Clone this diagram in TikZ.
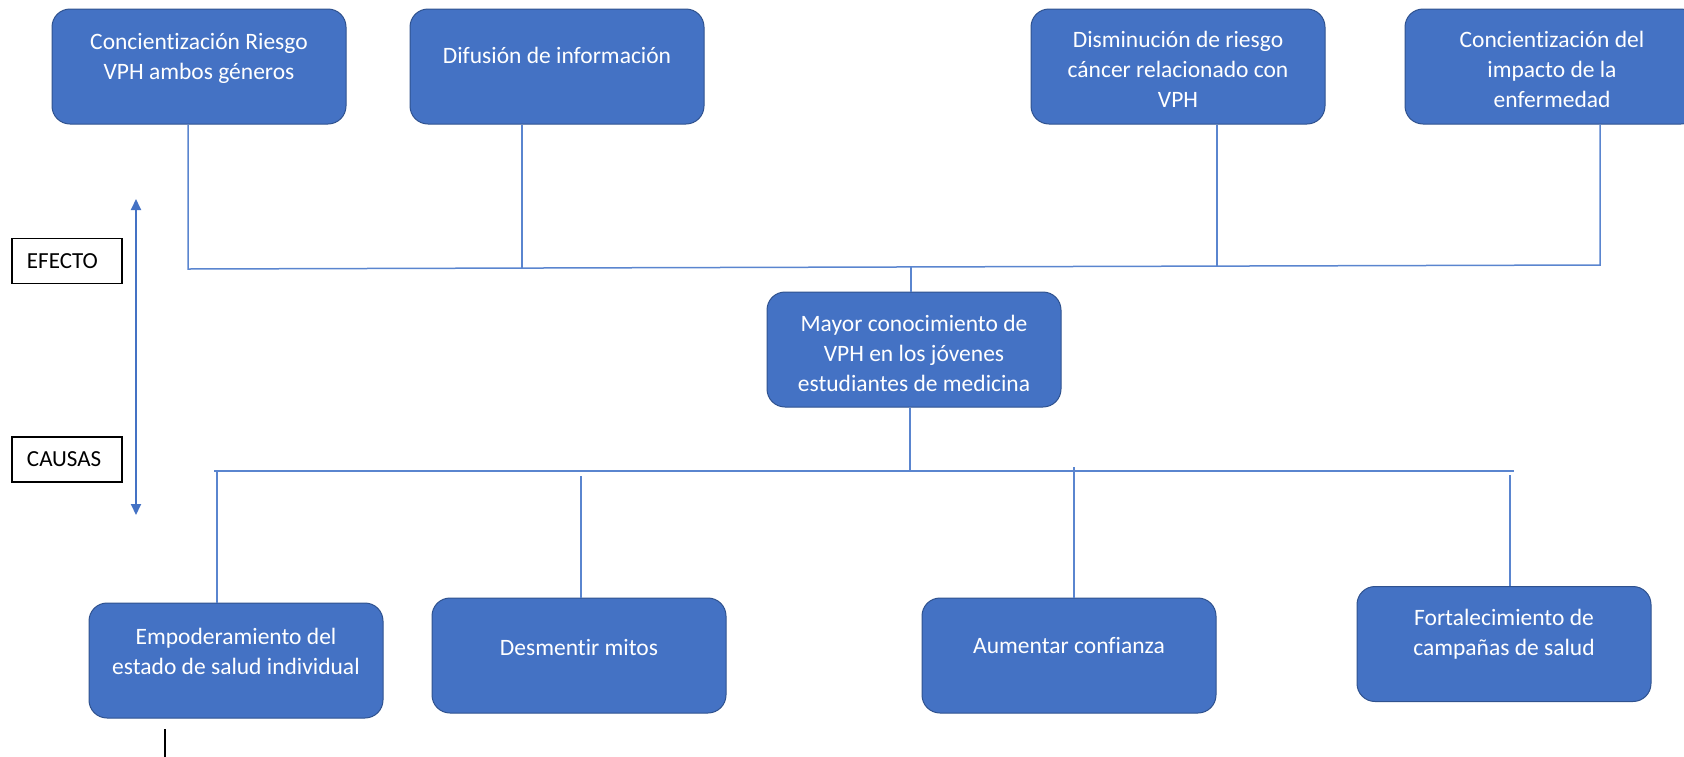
\documentclass[tikz,border=0pt]{standalone}
\usepackage{fontspec}
\setmainfont{Carlito}[Ligatures={NoCommon}]
\usetikzlibrary{arrows.meta}
\definecolor{boxfill}{HTML}{4472C4}
\definecolor{boxline}{HTML}{2F528F}
\definecolor{conncol}{HTML}{5A85CF}
\definecolor{arrcol}{HTML}{4472C4}
\tikzset{
  box/.style={draw=boxline, line width=1pt, fill=boxfill, rounded corners=18pt,
    minimum width=294pt, minimum height=115pt, inner sep=0pt},
  btext/.style={text=white, font=\fontsize{23.5}{30}\selectfont, align=center, inner sep=0pt},
  conn/.style={draw=conncol, line width=1.5pt},
  tag/.style={draw=black, line width=1.2pt, minimum height=45pt, text width=80pt,
    align=left, inner xsep=15pt, inner ysep=0pt, font=\fontsize{23}{28}\selectfont},
}
\begin{document}
\begin{tikzpicture}[x=1pt, y=-1pt]
\useasboundingbox (0,0) rectangle (1684,756);
% top boxes
\node[box] (B1) at (199,66.5) {};
\node[box] (B2) at (557,66.5) {};
\node[box] (B3) at (1178,66.5) {};
\node[box] (B4) at (1552,66.5) {};
\node[btext] (t1) at (199,58) {Concientización Riesgo\\VPH ambos géneros};
\node[btext] (t2) at (557,55) {Difusión de información};
\node[btext] (t3) at (1178,69) {Disminución de riesgo\\cáncer relacionado con\\VPH};
\node[btext] (t4) at (1552,69) {Concientización del\\impacto de la\\enfermedad};
% middle
\node[box] (M) at (914,349.5) {};
\node[btext] (tm) at (914,353) {Mayor conocimiento de\\VPH en los jóvenes\\estudiantes de medicina};
% bottom boxes
\node[box] (E) at (236,660.5) {};
\node[box] (D) at (579,655.5) {};
\node[box] (A) at (1069,655.5) {};
\node[box] (F) at (1504,644) {};
\node[btext] (te) at (236,651) {Empoderamiento del\\estado de salud individual};
\node[btext] (td) at (579,647) {Desmentir mitos};
\node[btext] (ta) at (1069,645) {Aumentar confianza};
\node[btext] (tf) at (1504,634.5) {Fortalecimiento de\\campañas de salud};
% tags
\node[tag] (efecto) at (67,261) {EFECTO};
\node[tag] (causas) at (67,459.5) {CAUSAS};
% top bus
\coordinate (tbL) at (188,269);
\coordinate (tbR) at (1600,265);
\coordinate (tb2) at (522,268);
\coordinate (tb3) at (1217,266);
\coordinate (tbM) at (911,267);
\draw[conn] (B1.south -| tbL) -- (tbL) -- (tbR) -- (B4.south -| tbR);
\draw[conn] (B2.south -| tb2) -- (tb2);
\draw[conn] (B3.south -| tb3) -- (tb3);
\draw[conn] (tbM) -- (M.north -| tbM);
% bottom bus
\coordinate (bbL) at (214,471);
\coordinate (bbR) at (1514,471);
\coordinate (bbM) at (910,471);
\coordinate (be) at (217,471);
\coordinate (bd) at (581,476);
\coordinate (ba) at (1074,467);
\coordinate (bf) at (1510,475);
\draw[conn] (bbL) -- (bbR);
\draw[conn] (M.south -| bbM) -- (bbM);
\draw[conn] (be) -- (E.north -| be);
\draw[conn] (bd) -- (D.north -| bd);
\draw[conn] (ba) -- (A.north -| ba);
\draw[conn] (bf) -- (F.north -| bf);
% double arrow
\coordinate (arT) at (136,199);
\coordinate (arB) at (136,515);
\draw[draw=arrcol, line width=2pt, {Triangle[width=10pt,length=11pt]}-{Triangle[width=10pt,length=11pt]}] (arB) -- (arT);
% stray black line
\coordinate (bk1) at (165,729);
\coordinate (bk2) at (165,760);
\draw[black, line width=1.5pt] (bk1) -- (bk2);
\end{tikzpicture}
\end{document}
